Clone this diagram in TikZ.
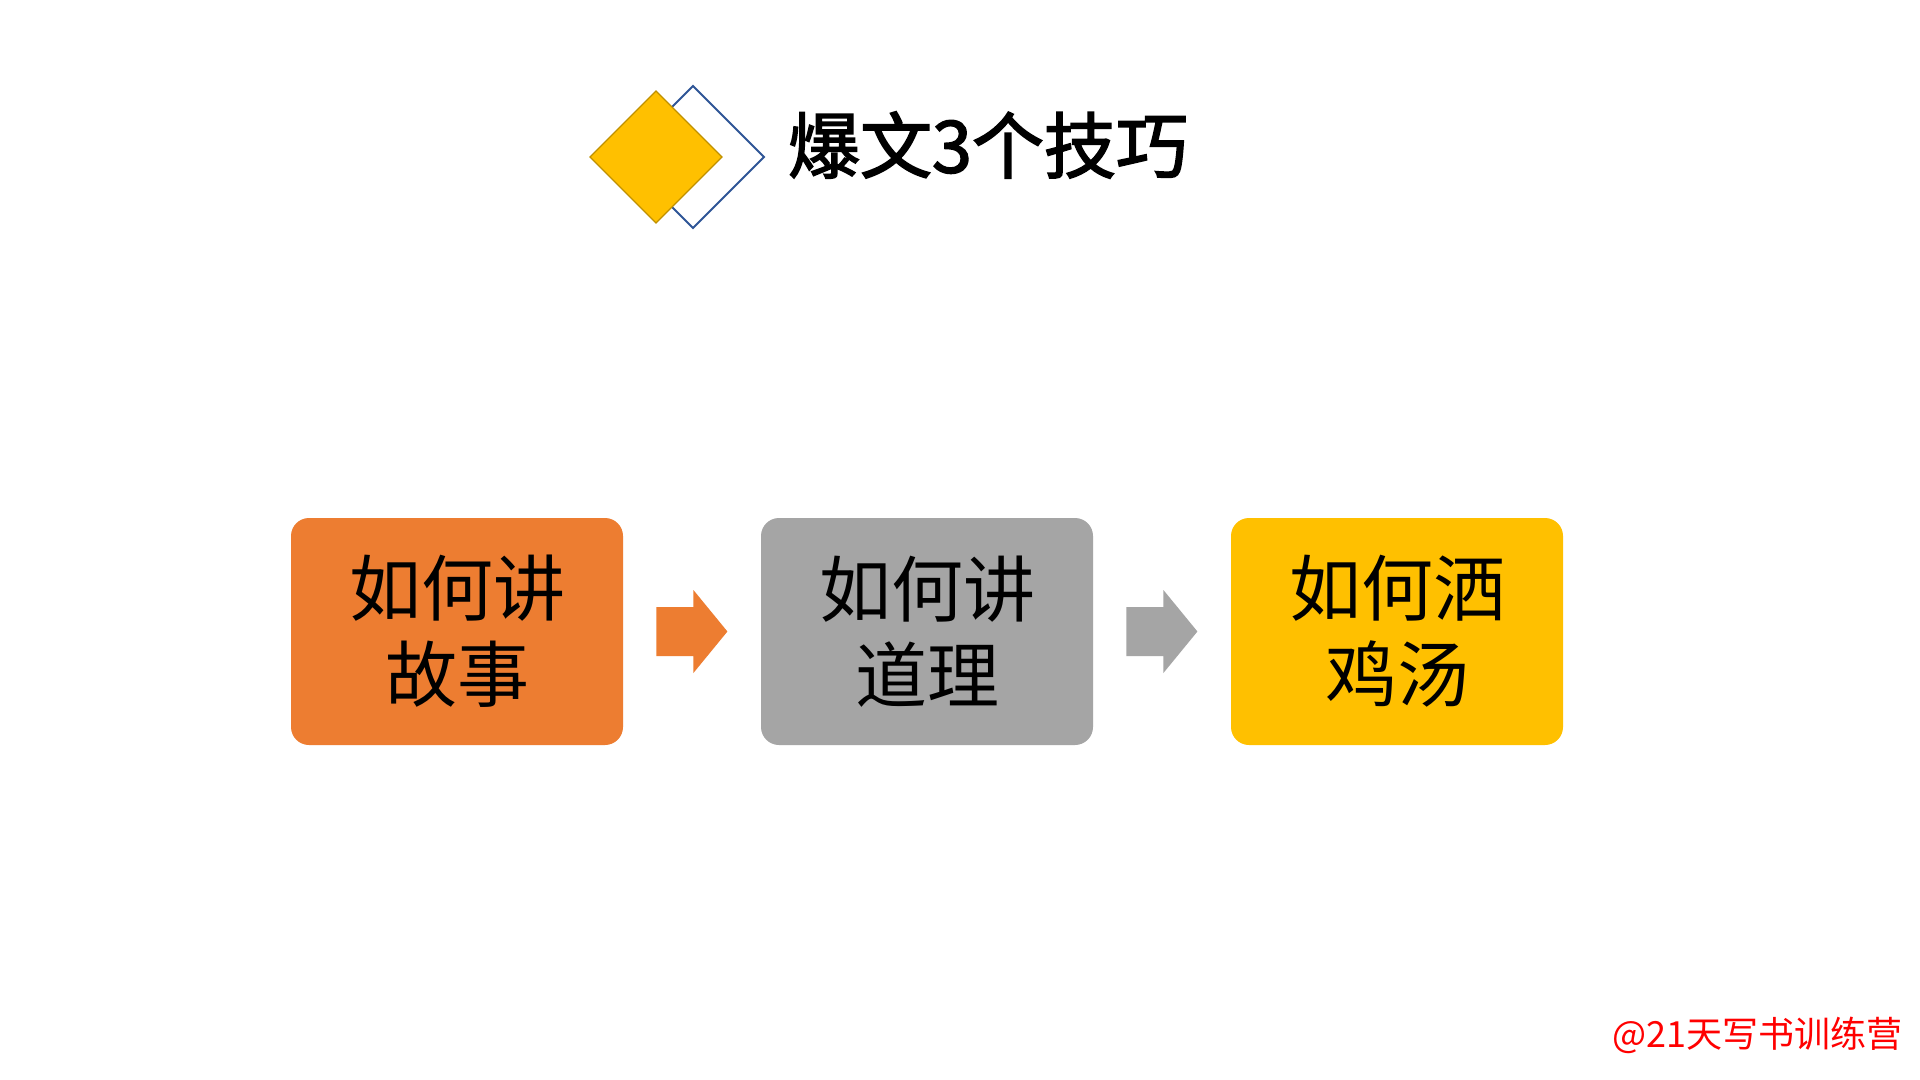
\documentclass[tikz,border=0pt]{standalone}
\usepackage{fontspec}
\setmainfont{Noto Sans CJK SC}
\newfontfamily\titlefont{Noto Sans CJK SC}[FakeBold=2.2]
\usetikzlibrary{shapes.geometric,calc}
\definecolor{corange}{HTML}{ED7D31}
\definecolor{cgray}{HTML}{A5A5A5}
\definecolor{cyellow}{HTML}{FFC000}
\definecolor{cgold}{HTML}{BF9000}
\definecolor{cblue}{HTML}{2F5597}
\definecolor{cred}{HTML}{FF0000}
\tikzset{
  stage/.style={rectangle, rounded corners=9pt, minimum width=166pt, minimum height=113.5pt,
    inner sep=0pt, align=center, font=\fontsize{36}{43}\selectfont, text=black}
}
\newcommand\myblockarrow[2]{%
  \fill[#2] ($(#1.east)+(33,-24.5)$) -- ($(#1.east)+(70,-24.5)$) -- ($(#1.east)+(70,-41.5)$)
    -- ($(#1.east)+(104,0)$) -- ($(#1.east)+(70,41.5)$) -- ($(#1.east)+(70,24.5)$)
    -- ($(#1.east)+(33,24.5)$) -- cycle;}
\begin{document}
\begin{tikzpicture}[x=0.5pt,y=-0.5pt]
\useasboundingbox[fill=white] (0,0) rectangle (1920,1080);
% title decoration
\node[diamond, draw=cblue, line width=0.9pt, minimum width=71pt, minimum height=71pt, inner sep=0pt, outer sep=0pt] (d2) at (693,157) {};
\node[diamond, fill=cyellow, draw=cgold, line width=0.6pt, minimum width=66pt, minimum height=66pt, inner sep=0pt, outer sep=0pt] (d1) at (656,157) {};
\node[inner sep=0pt, font=\titlefont\fontsize{36}{40}\selectfont] (title) at (988,145) {爆文3个技巧};
% stages
\node[stage, fill=corange] (s1) at (457,631.5) {如何讲\\故事};
\node[stage, fill=cgray] (s2) at (927,631.5) {如何讲\\道理};
\node[stage, fill=cyellow] (s3) at (1397,631.5) {如何洒\\鸡汤};
\myblockarrow{s1}{corange}
\myblockarrow{s2}{cgray}
% watermark
\node[inner sep=0pt, text=cred, font=\fontsize{18}{22}\selectfont] (wm) at (1757,1035) {@21天写书训练营};
\end{tikzpicture}
\end{document}
